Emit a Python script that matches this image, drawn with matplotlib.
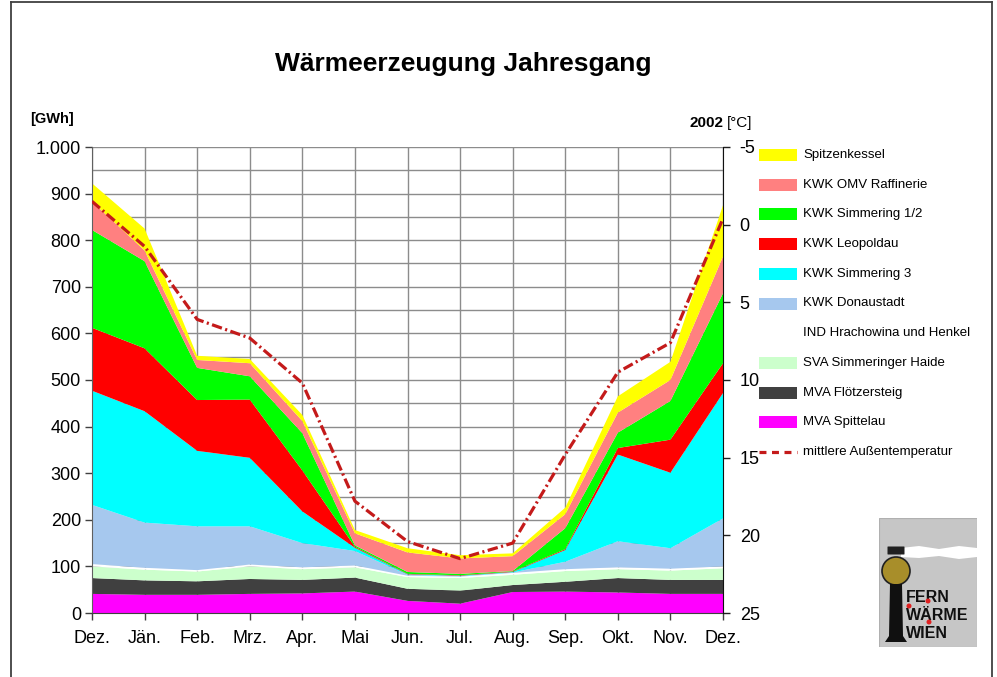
import matplotlib
matplotlib.use('Agg')
import matplotlib.pyplot as plt
from matplotlib.patches import Rectangle, Circle, Polygon, FancyBboxPatch
from matplotlib.lines import Line2D
from matplotlib.ticker import MultipleLocator, FuncFormatter
from matplotlib import font_manager
import numpy as np

# ---------------- data ----------------
months = ['Dez.', 'Jän.', 'Feb.', 'Mrz.', 'Apr.', 'Mai', 'Jun.', 'Jul.', 'Aug.',
          'Sep.', 'Okt.', 'Nov.', 'Dez.']

mva_spittelau      = [41, 39, 39, 41, 42, 46, 26, 20, 45, 46, 44, 41, 41]
mva_floetzersteig  = [34, 31, 29, 32, 29, 30, 26, 28, 15, 21, 31, 30, 30]
sva_simmering      = [25, 23, 21, 27, 23, 22, 25, 27, 22, 23, 19, 20, 25]
ind_hrachowina     = [5, 4, 3, 4, 4, 4, 3, 3, 4, 4, 4, 4, 4]
kwk_donaustadt     = [127, 97, 94, 82, 52, 31, 2, 1, 1, 16, 56, 44, 103]
kwk_simmering3     = [245, 239, 162, 147, 68, 7, 1, 1, 1, 25, 186, 162, 269]
kwk_leopoldau      = [135, 135, 109, 125, 88, 2, 1, 1, 1, 2, 14, 71, 64]
kwk_simmering12    = [210, 187, 69, 50, 80, 3, 4, 3, 1, 45, 33, 83, 150]
kwk_omv            = [61, 23, 17, 28, 26, 26, 42, 33, 32, 30, 43, 45, 79]
spitzenkessel      = [39, 47, 9, 9, 13, 7, 9, 7, 6, 14, 35, 39, 110]

temperature = [-1.5, 1.4, 6.1, 7.3, 10.2, 17.8, 20.4, 21.5, 20.5, 14.8, 9.5, 7.6, -0.4]

series_labels = ['MVA Spittelau', 'MVA Flötzersteig', 'SVA Simmeringer Haide',
                 'IND Hrachowina und Henkel', 'KWK Donaustadt', 'KWK Simmering 3',
                 'KWK Leopoldau', 'KWK Simmering 1/2', 'KWK OMV Raffinerie',
                 'Spitzenkessel']
series_colors = ['#FF00FF', '#404040', '#CCFFCC', '#FFFFFF', '#A6C8EE', '#00FFFF',
                 '#FF0000', '#00FF00', '#FF8080', '#FFFF00']
temp_label = 'mittlere Außentemperatur'
temp_color = '#C41A1A'

# ---------------- fonts ----------------
plt.rcParams['font.family'] = ['Liberation Sans', 'DejaVu Sans']
plt.rcParams['axes.unicode_minus'] = False
plt.rcParams['lines.scale_dashes'] = False

try:
    font_manager.findfont(font_manager.FontProperties(family='Liberation Sans Narrow'),
                          fallback_to_default=False)
    narrow = ['Liberation Sans Narrow', 'Liberation Sans', 'DejaVu Sans']
    leg_size = 11.0
except Exception:
    narrow = ['Liberation Sans', 'DejaVu Sans']
    leg_size = 9.5

W, H = 997, 677
fig = plt.figure(figsize=(W / 100, H / 100), dpi=100)
fig.patch.set_facecolor('white')


def fx(px):
    return px / W


def fy(py):
    return 1 - py / H


# outer frame
fig.add_artist(Line2D([fx(11), fx(11)], [0, fy(2)], color='#404040', lw=1.3))
fig.add_artist(Line2D([fx(992), fx(992)], [0, fy(2)], color='#404040', lw=1.3))
fig.add_artist(Line2D([fx(11), fx(992)], [fy(2), fy(2)], color='#404040', lw=1.3))

# ---------------- main axes ----------------
ax = fig.add_axes([fx(92), fy(613), fx(723) - fx(92), fy(147) - fy(613)])
x = np.arange(len(months))
ax.stackplot(x, mva_spittelau, mva_floetzersteig, sva_simmering, ind_hrachowina,
             kwk_donaustadt, kwk_simmering3, kwk_leopoldau, kwk_simmering12,
             kwk_omv, spitzenkessel, colors=series_colors, linewidth=0, zorder=2)
ax.set_xlim(0, len(months) - 1)
ax.set_ylim(0, 1000)
ax.set_axisbelow(True)
ax.yaxis.set_major_locator(MultipleLocator(100))
ax.yaxis.set_minor_locator(MultipleLocator(50))
ax.yaxis.set_major_formatter(FuncFormatter(lambda v, _: f"{int(round(v)):,}".replace(',', '.')))
ax.set_xticks(x)
ax.set_xticklabels(months)
ax.grid(which='both', axis='y', color='#8C8C8C', lw=1.0, zorder=0)
ax.grid(which='major', axis='x', color='#8C8C8C', lw=1.0, zorder=0)
ax.tick_params(axis='y', which='major', direction='out', length=5, width=1,
               color='#404040', labelsize=13, pad=3)
ax.tick_params(axis='y', which='minor', length=0)
ax.tick_params(axis='x', direction='out', length=5, width=1, color='#404040',
               labelsize=13, pad=7)
ax.spines['top'].set_visible(False)
ax.spines['left'].set_color('#606060')
ax.spines['bottom'].set_color('#404040')
ax.spines['right'].set_visible(False)

ax2 = ax.twinx()
ax2.plot(x, temperature, color=temp_color, lw=2.3, dashes=[7.5, 2.5, 1.5, 2.5], zorder=5)
ax2.set_ylim(25, -5)
ax2.set_yticks([-5, 0, 5, 10, 15, 20, 25])
ax2.tick_params(axis='y', direction='out', length=5, width=1, color='#202020',
                labelsize=13, pad=7)
for s in ['top', 'left', 'bottom']:
    ax2.spines[s].set_visible(False)
ax2.spines['right'].set_color('#101010')

# ---------------- texts ----------------
fig.text(fx(463), fy(71), 'Wärmeerzeugung Jahresgang', ha='center', va='baseline',
         fontsize=19, fontweight='bold')
fig.text(fx(30), fy(123), '[GWh]', ha='left', va='baseline', fontsize=10.5,
         fontweight='bold')
fig.text(fx(723), fy(127), '2002', ha='right', va='baseline', fontsize=11,
         fontweight='bold')
fig.text(fx(727), fy(127), '[°C]', ha='left', va='baseline', fontsize=11)

# ---------------- legend (manual, top to bottom) ----------------
leg_order = list(range(len(series_labels)))[::-1]
for i, idx in enumerate(leg_order):
    yc = 155 + 29.7 * i
    if series_colors[idx].upper() != '#FFFFFF':
        fig.add_artist(Rectangle((fx(759), fy(yc + 6)), fx(797) - fx(759), fy(yc - 6) - fy(yc + 6),
                                 facecolor=series_colors[idx], edgecolor='none'))
    fig.text(fx(803), fy(yc), series_labels[idx], ha='left', va='center',
             fontsize=leg_size, family=narrow)
yc = 155 + 29.7 * len(series_labels)
fig.add_artist(Line2D([fx(759), fx(797)], [fy(yc), fy(yc)], color=temp_color, lw=2.3,
                      dashes=[5, 4]))
fig.text(fx(803), fy(yc), temp_label, ha='left', va='center', fontsize=leg_size,
         family=narrow)

# ---------------- logo ----------------
lg = fig.add_axes([fx(879), fy(647), fx(977) - fx(879), fy(518) - fy(647)])
lg.set_xlim(0, 98)
lg.set_ylim(129, 0)
lg.axis('off')
lg.add_patch(Rectangle((0, 0), 98, 129, facecolor='#C6C6C6', edgecolor='#B0B0B0', lw=0.8))
lg.add_patch(Polygon([[22, 30], [40, 28], [60, 31], [80, 28], [98, 30], [98, 39],
                      [80, 41], [60, 38], [40, 40], [22, 39]],
                     closed=True, facecolor='white', edgecolor='none'))
lg.add_patch(FancyBboxPatch((9, 29), 16, 7, boxstyle='round,pad=0.5',
                            facecolor='#202020', edgecolor='none'))
lg.add_patch(Circle((17, 53), 14, facecolor='#A88E2A', edgecolor='#202020', lw=1.2))
lg.add_patch(Polygon([[11, 66], [23, 66], [24, 118], [28, 124], [6, 124], [10, 118]],
                     closed=True, facecolor='#101010', edgecolor='none'))
for txt, ty in [('FERN', 80), ('WÄRME', 98), ('WIEN', 116)]:
    lg.text(27, ty, txt, fontsize=11.5, fontweight='bold', family=narrow, va='center',
            ha='left', color='#101010')
for (cx, cy) in [(30, 88), (49, 83), (50, 104)]:
    lg.add_patch(Circle((cx, cy), 2.5, facecolor='#E02020', edgecolor='none', zorder=5))

fig.savefig('out.png', dpi=100, facecolor='white')
